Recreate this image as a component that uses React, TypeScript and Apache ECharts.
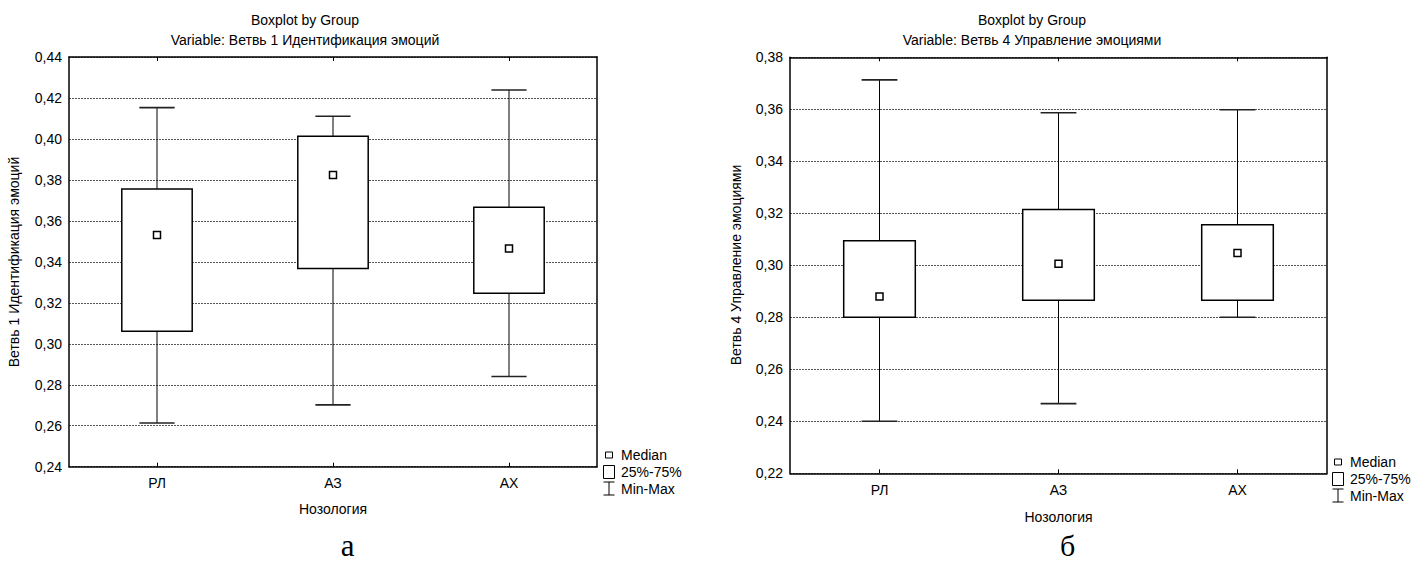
import React, { useEffect, useRef } from 'react';
import * as echarts from 'echarts';

const categories = ['РЛ', 'АЗ', 'АХ'];

// Chart "а": Ветвь 1 Идентификация эмоций
const minA = [0.2613, 0.2702, 0.284];
const q1A = [0.3061, 0.3367, 0.3247];
const medianA = [0.3531, 0.3824, 0.3465];
const q3A = [0.3756, 0.4013, 0.3666];
const maxA = [0.4153, 0.4111, 0.4239];
const yMinA = 0.24;
const yMaxA = 0.44;

// Chart "б": Ветвь 4 Управление эмоциями
const minB = [0.24, 0.2468, 0.28];
const q1B = [0.28, 0.2866, 0.2866];
const medianB = [0.288, 0.3006, 0.3047];
const q3B = [0.3094, 0.3215, 0.3156];
const maxB = [0.3713, 0.3587, 0.3598];
const yMinB = 0.22;
const yMaxB = 0.38;

const yInterval = 0.02;

const titleMain = 'Boxplot by Group';
const subtitleA = 'Variable: Ветвь 1 Идентификация эмоций';
const subtitleB = 'Variable: Ветвь 4 Управление эмоциями';
const yNameA = 'Ветвь 1 Идентификация эмоций';
const yNameB = 'Ветвь 4 Управление эмоциями';
const xName = 'Нозология';
const legendLabels = ['Median', '25%-75%', 'Min-Max'];
const panelLetters = ['а', 'б'];

const SANS = "'Liberation Sans', Arial, sans-serif";
const SERIF = "'Liberation Serif', 'Times New Roman', serif";

const fmt = (v: number) => v.toFixed(2).replace('.', ',');

const renderBox = (params: any, api: any) => {
  const idx = api.value(0);
  const pMin = api.coord([idx, api.value(1)]);
  const pQ1 = api.coord([idx, api.value(2)]);
  const pMed = api.coord([idx, api.value(3)]);
  const pQ3 = api.coord([idx, api.value(4)]);
  const pMax = api.coord([idx, api.value(5)]);
  const band = api.size([1, 0])[0];
  const cx = pMed[0];
  const bw = band * 0.4;
  const cw = band * 0.2;
  const ms = 7;
  const ls = { stroke: '#000', lineWidth: 1 };
  const cs = { stroke: '#222', lineWidth: 1.6 };
  return {
    type: 'group',
    children: [
      { type: 'line', shape: { x1: cx, y1: pMax[1], x2: cx, y2: pQ3[1] }, style: ls },
      { type: 'line', shape: { x1: cx, y1: pQ1[1], x2: cx, y2: pMin[1] }, style: ls },
      { type: 'line', shape: { x1: cx - cw / 2, y1: pMax[1], x2: cx + cw / 2, y2: pMax[1] }, style: cs },
      { type: 'line', shape: { x1: cx - cw / 2, y1: pMin[1], x2: cx + cw / 2, y2: pMin[1] }, style: cs },
      {
        type: 'rect',
        shape: { x: cx - bw / 2, y: pQ3[1], width: bw, height: pQ1[1] - pQ3[1] },
        style: { fill: '#fff', stroke: '#000', lineWidth: 1.5 },
      },
      {
        type: 'rect',
        shape: { x: cx - ms / 2, y: pMed[1] - ms / 2, width: ms, height: ms },
        style: { fill: '#fff', stroke: '#000', lineWidth: 1.5 },
      },
    ],
  };
};

const makeAxes = (gridIndex: number, min: number, max: number, nameGap: number, labelMargin: number) => {
  const xAxes = [
    {
      type: 'category',
      gridIndex,
      data: categories,
      position: 'bottom',
      name: xName,
      nameLocation: 'middle',
      nameGap,
      nameTextStyle: { fontSize: 14, color: '#000', fontFamily: SANS },
      axisLine: { show: true, lineStyle: { color: '#000', width: 1.5 } },
      axisTick: { show: true, inside: true, alignWithLabel: true, length: 4, lineStyle: { color: '#000' } },
      axisLabel: { fontSize: 14, color: '#000', margin: labelMargin, fontFamily: SANS },
      splitLine: { show: false },
    },
    {
      type: 'category',
      gridIndex,
      data: categories,
      position: 'top',
      axisLine: { show: true, lineStyle: { color: '#000', width: 1.5 } },
      axisTick: { show: true, inside: true, alignWithLabel: true, length: 4, lineStyle: { color: '#000' } },
      axisLabel: { show: false },
      splitLine: { show: false },
    },
  ];
  const yAxes = [
    {
      type: 'value',
      gridIndex,
      min,
      max,
      interval: yInterval,
      position: 'left',
      axisLine: { show: true, lineStyle: { color: '#000', width: 1.5 } },
      axisTick: { show: false },
      axisLabel: { fontSize: 14, color: '#000', margin: 7, formatter: fmt, fontFamily: SANS },
      splitLine: { show: true, lineStyle: { color: '#555', width: 1, type: [2, 1] } },
    },
    {
      type: 'value',
      gridIndex,
      min,
      max,
      interval: yInterval,
      position: 'right',
      axisLine: { show: true, lineStyle: { color: '#000', width: 1.5 } },
      axisTick: { show: false },
      axisLabel: { show: false },
      splitLine: { show: false },
    },
  ];
  return { xAxes, yAxes };
};

const legendGraphics = (iconX: number, textX: number, ys: number[]) => {
  const cx = iconX + 5.5;
  const stroke = { stroke: '#000', lineWidth: 1, fill: '#fff' };
  return [
    { type: 'rect', shape: { x: cx - 3.5, y: ys[0] - 3, width: 7, height: 6 }, style: stroke },
    { type: 'rect', shape: { x: iconX, y: ys[1] - 6.5, width: 11, height: 13 }, style: stroke },
    { type: 'line', shape: { x1: iconX, y1: ys[2] - 7, x2: iconX + 11, y2: ys[2] - 7 }, style: { stroke: '#000', lineWidth: 1 } },
    { type: 'line', shape: { x1: cx, y1: ys[2] - 7, x2: cx, y2: ys[2] + 6 }, style: { stroke: '#000', lineWidth: 1 } },
    { type: 'line', shape: { x1: iconX, y1: ys[2] + 6, x2: iconX + 11, y2: ys[2] + 6 }, style: { stroke: '#000', lineWidth: 1 } },
    ...legendLabels.map((t, i) => ({
      type: 'text',
      x: textX,
      y: ys[i],
      style: { text: t, fontSize: 14, fontFamily: SANS, fill: '#000', align: 'left', verticalAlign: 'middle' },
    })),
  ];
};

const textG = (text: string, x: number, y: number, extra: any = {}) => ({
  type: 'text',
  x,
  y,
  ...extra,
  style: { text, fontSize: 14, fontFamily: SANS, fill: '#000', align: 'center', verticalAlign: 'middle', ...(extra.style || {}) },
});

export default function App() {
  const ref = useRef<HTMLDivElement>(null);
  useEffect(() => {
    if (!ref.current) return;
    const chart = echarts.init(ref.current, null, { renderer: 'svg' });
    const a = makeAxes(0, yMinA, yMaxA, 35, 9);
    const b = makeAxes(1, yMinB, yMaxB, 37, 10);
    const dataA = categories.map((c, i) => [i, minA[i], q1A[i], medianA[i], q3A[i], maxA[i]]);
    const dataB = categories.map((c, i) => [i, minB[i], q1B[i], medianB[i], q3B[i], maxB[i]]);
    const option: any = {
      animation: false,
      backgroundColor: '#fff',
      textStyle: { fontFamily: SANS },
      grid: [
        { left: 69, right: 1415 - 597, top: 57, bottom: 564 - 466.7 },
        { left: 790, right: 1415 - 1327, top: 57.3, bottom: 564 - 473.3 },
      ],
      xAxis: [
        a.xAxes[0],
        a.xAxes[1],
        { ...b.xAxes[0], gridIndex: 1 },
        { ...b.xAxes[1], gridIndex: 1 },
      ],
      yAxis: [a.yAxes[0], a.yAxes[1], { ...b.yAxes[0], gridIndex: 1 }, { ...b.yAxes[1], gridIndex: 1 }],
      series: [
        {
          type: 'custom',
          xAxisIndex: 0,
          yAxisIndex: 0,
          renderItem: renderBox,
          encode: { x: 0, y: [1, 2, 3, 4, 5] },
          data: dataA,
          z: 10,
        },
        {
          type: 'custom',
          xAxisIndex: 2,
          yAxisIndex: 2,
          renderItem: renderBox,
          encode: { x: 0, y: [1, 2, 3, 4, 5] },
          data: dataB,
          z: 10,
        },
      ],
      graphic: [
        textG(titleMain, 305, 20),
        textG(subtitleA, 305, 40),
        textG(titleMain, 1032, 20),
        textG(subtitleB, 1032, 40),
        textG(yNameA, 13.5, 262, { rotation: Math.PI / 2 }),
        textG(yNameB, 736, 265, { rotation: Math.PI / 2 }),
        textG(panelLetters[0], 347.7, 545, { style: { fontSize: 31, fontFamily: SERIF } }),
        textG(panelLetters[1], 1067.5, 545, { style: { fontSize: 30, fontFamily: SERIF } }),
        ...legendGraphics(603.5, 621, [455, 472, 489]),
        ...legendGraphics(1332.5, 1350, [462, 479, 496]),
      ],
    };
    chart.setOption(option);
    return () => chart.dispose();
  }, []);
  return (
    <div
      ref={ref}
      style={{ position: 'absolute', left: 0, top: 0, width: 1415, height: 564, background: '#fff' }}
    />
  );
}
